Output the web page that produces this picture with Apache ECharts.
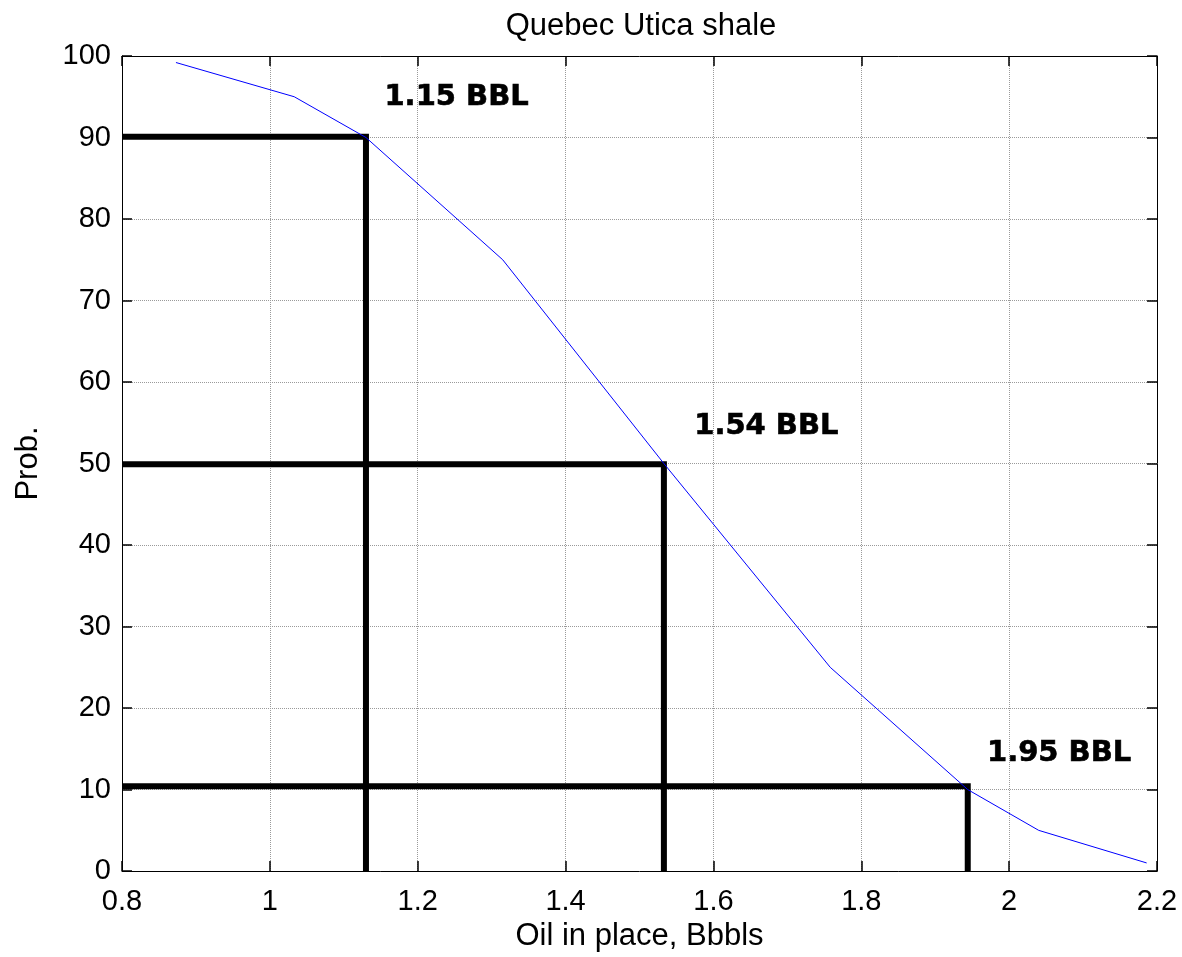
<!DOCTYPE html>
<html>
<head>
<meta charset="utf-8">
<script src="https://cdn.jsdelivr.net/npm/echarts@6/dist/echarts.min.js"></script>
<style>html,body{margin:0;padding:0;background:#fff;overflow:hidden;}#c{width:1182px;height:957px;}</style>
</head>
<body>
<div id="c"></div>
<script>
// Data
var curveX = [0.873, 1.033, 1.13, 1.315, 1.533, 1.758, 1.944, 2.04, 2.186];
var curveY = [99.2, 95, 90, 75, 50, 25, 10, 5, 1];
var markerX = [1.13, 1.533, 1.944];
var markerY = [90.1, 49.9, 10.4];
var labelTexts = ['1.15 BBL', '1.54 BBL', '1.95 BBL'];
var labelX = [1.155, 1.574, 1.970];
var labelY = [94.9, 54.6, 14.4];
var xMin = 0.8, xMax = 2.2, xStep = 0.2;
var yMin = 0, yMax = 100, yStep = 10;

var FONT = 'Liberation Sans, Arial, sans-serif';
var FS_T = 31;   // title / axis names
var FS = 29;     // tick labels

var curve = curveX.map(function (x, i) { return [x, curveY[i]]; });
var series = [{
  type: 'line', data: curve, showSymbol: false, symbol: 'none',
  lineStyle: { color: '#0000ff', width: 1 }, z: 3, animation: false
}];
markerX.forEach(function (mx, i) {
  series.push({
    type: 'line', data: [[xMin, markerY[i]], [mx, markerY[i]], [mx, yMin]],
    symbol: 'none', lineStyle: { color: '#000', width: 6, join: 'miter' }, z: 2, animation: false
  });
});
series.push({
  type: 'scatter', symbolSize: 0, animation: false,
  itemStyle: { color: '#000', opacity: 1 },
  data: labelX.map(function (x, i) { return { value: [x, labelY[i]], name: labelTexts[i] }; }),
  label: {
    show: true, position: 'right', distance: 0,
    formatter: function (p) { return p.name; },
    fontFamily: 'DejaVu Sans', fontWeight: 'bold', fontSize: 29, color: '#000000',
    textBorderColor: '#000000', textBorderWidth: 0.6
  }
});

var tick = { show: true, inside: true, length: 10, lineStyle: { color: '#000', width: 1.5 } };
var split = { show: true, lineStyle: { color: '#9a9a9a', type: [1, 1], width: 1 } };

var chart = echarts.init(document.getElementById('c'), null, { renderer: 'canvas', width: 1182, height: 957 });
chart.setOption({
  backgroundColor: '#fff',
  animation: false,
  title: {
    text: 'Quebec Utica shale', left: 636, top: 6, textAlign: 'center',
    textStyle: { fontFamily: FONT, fontSize: FS_T, fontWeight: 'normal', color: '#000' }
  },
  grid: { left: 122, right: 25, top: 56, bottom: 85, containLabel: false },
  xAxis: [{
    type: 'value', min: xMin, max: xMax, interval: xStep, position: 'bottom',
    name: 'Oil in place, Bbbls', nameLocation: 'middle', nameGap: 48,
    nameTextStyle: { fontFamily: FONT, fontSize: FS_T, color: '#000' },
    axisLine: { show: true, onZero: false, lineStyle: { color: '#000', width: 1 } },
    axisTick: tick, splitLine: split,
    axisLabel: { fontFamily: FONT, fontSize: FS, color: '#000', margin: 16,
      formatter: function (v) { return String(Math.round(v * 10) / 10); } }
  }, {
    type: 'value', min: xMin, max: xMax, interval: xStep, position: 'top',
    axisLine: { show: true, onZero: false, lineStyle: { color: '#000', width: 1 } },
    axisTick: tick, splitLine: { show: false }, axisLabel: { show: false }
  }],
  yAxis: [{
    type: 'value', min: yMin, max: yMax, interval: yStep, position: 'left',
    name: 'Prob.', nameLocation: 'middle', nameGap: 78, nameRotate: 90,
    nameTextStyle: { fontFamily: FONT, fontSize: FS_T, color: '#000' },
    axisLine: { show: true, onZero: false, lineStyle: { color: '#000', width: 1 } },
    axisTick: tick, splitLine: split,
    axisLabel: { fontFamily: FONT, fontSize: FS, color: '#000', margin: 11 }
  }, {
    type: 'value', min: yMin, max: yMax, interval: yStep, position: 'right',
    axisLine: { show: true, onZero: false, lineStyle: { color: '#000', width: 1 } },
    axisTick: tick, splitLine: { show: false }, axisLabel: { show: false }
  }],
  series: series
});
</script>
</body>
</html>
